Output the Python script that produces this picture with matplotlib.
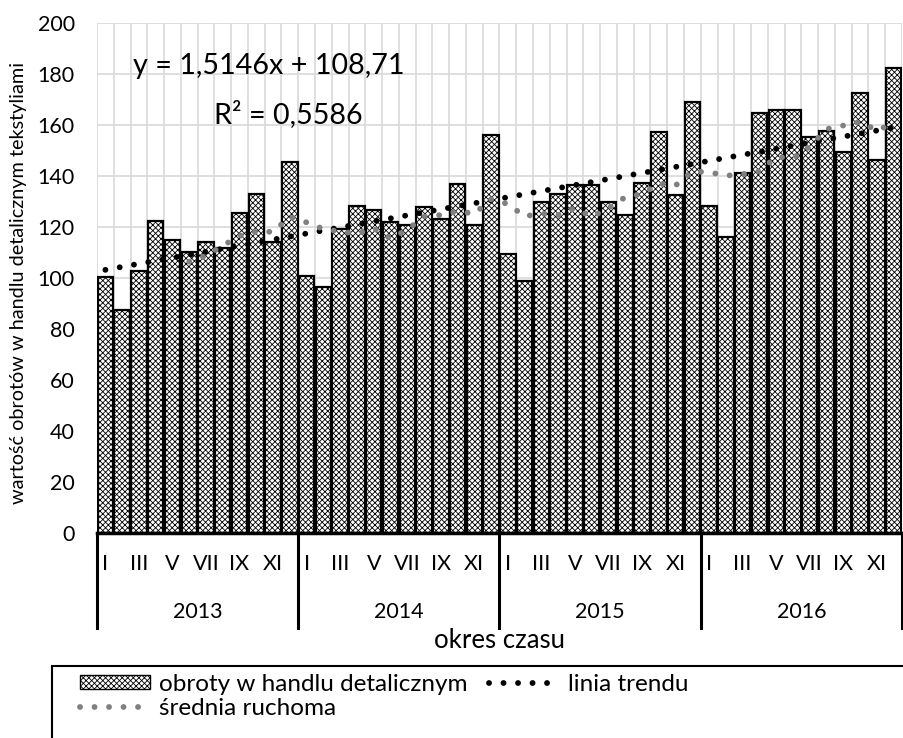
import matplotlib.pyplot as plt
from matplotlib.patches import Rectangle, Patch
from matplotlib.lines import Line2D
from matplotlib import transforms
import numpy as np

plt.rcParams['font.family'] = ['Lato', 'DejaVu Sans']
plt.rcParams['hatch.linewidth'] = 0.6

years = ['2013', '2014', '2015', '2016']
months = ['I', 'II', 'III', 'IV', 'V', 'VI', 'VII', 'VIII', 'IX', 'X', 'XI', 'XII']

# obroty w handlu detalicznym (miesiecznie 2013-2016)
obroty = [100.5, 87.5, 102.9, 122.5, 114.9, 110.1, 114.2, 111.7, 125.6, 132.9, 114.0, 145.6,
          100.9, 96.3, 119.2, 128.1, 126.8, 121.9, 120.8, 127.7, 123.0, 136.8, 120.8, 156.1,
          109.4, 99.0, 129.9, 132.9, 136.4, 136.4, 129.9, 124.8, 137.2, 157.2, 132.4, 169.2,
          128.1, 116.2, 141.0, 164.6, 165.9, 165.9, 155.1, 157.7, 149.6, 172.7, 146.2, 182.5]

# srednia ruchoma - od 6. miesiaca
srednia_x = list(range(6, 49))
srednia = [106.4, 108.7, 112.7, 116.5, 118.2, 118.1, 124.0, 121.8, 119.2, 118.2, 117.4,
           119.5, 115.5, 118.9, 124.1, 124.7, 126.2, 125.2, 130.9, 129.0, 124.2, 125.3,
           124.7, 127.3, 124.0, 127.4, 131.7, 132.9, 137.0, 136.3, 141.8, 141.5, 140.1,
           140.7, 141.9, 147.5, 147.0, 151.5, 158.4, 159.8, 161.2, 157.9, 160.6]

# linia trendu (punkty poczatkowy i koncowy)
trend_x = [1, 48]
trend_y = [103.2, 159.0]

W, H = 904, 738
fig = plt.figure(figsize=(W / 100, H / 100), dpi=100)
ax = fig.add_axes([97 / W, 1 - 533 / H, 805 / W, 510 / H])

x = np.arange(1, len(obroty) + 1)
ax.bar(x, obroty, width=0.92, facecolor='white', edgecolor='black', hatch='xxxxxx',
       linewidth=0, zorder=2)
ax.bar(x, obroty, width=0.92, facecolor='none', edgecolor='black', linewidth=1.6, zorder=3)

lw_dot = 4.2
dots = (0, (0.01, 10.4 / lw_dot))
ax.plot(trend_x, trend_y, color='black', lw=lw_dot, linestyle=dots, dash_capstyle='round', zorder=4)
ax.plot(srednia_x, srednia, color='#808080', lw=lw_dot, linestyle=dots, dash_capstyle='round', zorder=4)

ax.set_xlim(0.5, len(obroty) + 0.5)
ax.set_ylim(0, 200)
ax.set_yticks(np.arange(0, 201, 20))
ax.set_xticks(x[::2])
ax.set_xticklabels(months[::2] * len(years))
ax.tick_params(axis='x', length=0, pad=15, labelsize=15.5)
ax.tick_params(axis='y', length=0, pad=16, labelsize=15.5)

# siatka
for yv in np.arange(20, 201, 20):
    ax.axhline(yv, color='#d9d9d9', lw=1.2, zorder=1)
for xv in np.arange(0.5, len(obroty) + 1, 1):
    ax.axvline(xv, color='#d9d9d9', lw=1.2, zorder=1)

for s in ['top', 'right', 'left']:
    ax.spines[s].set_visible(False)
ax.spines['bottom'].set_linewidth(2.5)
ax.spines['bottom'].set_zorder(5)

# etykiety lat i separatory
trans = transforms.blended_transform_factory(ax.transData, ax.transAxes)
for i, yr in enumerate(years):
    ax.text(6.5 + 12 * i, (533 - 612) / 510, yr, transform=trans, ha='center', va='center',
            fontsize=15.5)
for i in range(len(years) + 1):
    ax.plot([0.5 + 12 * i] * 2, [0, (533 - 628) / 510], transform=trans, color='black', lw=2.2,
            clip_on=False)

fig.text(269 / W, 1 - 66 / H, 'y = 1,5146x + 108,71', ha='center', va='center', fontsize=20.7)
fig.text(288 / W, 1 - 114 / H, 'R² = 0,5586', ha='center', va='center', fontsize=20.7)

fig.text(19 / W, 1 - 283 / H, 'wartość obrotów w handlu detalicznym tekstyliami', rotation=90,
         ha='center', va='center', fontsize=14.3)
fig.text(500 / W, 1 - 640 / H, 'okres czasu', ha='center', va='center', fontsize=18.5)

# legenda
fig.patches.append(Rectangle((52 / W, -0.05), 1.0, (738 - 666) / H + 0.05, transform=fig.transFigure,
                             fill=False, edgecolor='black', lw=1.5))
handles = [Patch(facecolor='white', edgecolor='black', hatch='xxxxxx', lw=1),
           Line2D([], [], color='#808080', lw=lw_dot, linestyle=dots, dash_capstyle='round'),
           Line2D([], [], color='black', lw=lw_dot, linestyle=dots, dash_capstyle='round')]
labels = ['obroty w handlu detalicznym', 'średnia ruchoma', 'linia trendu']
fig.legend(handles, labels, loc='upper left', bbox_to_anchor=(70 / W, 1 - 664 / H), ncol=2,
           frameon=False, fontsize=17.5, handlelength=2.9, handleheight=0.55, columnspacing=0.9,
           labelspacing=0.15, handletextpad=0.35, borderaxespad=0)

fig.savefig('out.png', dpi=100)
